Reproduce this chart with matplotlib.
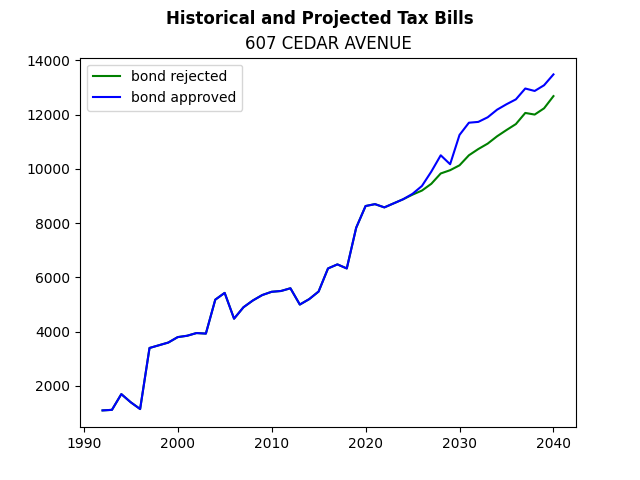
import matplotlib
matplotlib.use("Agg")
import matplotlib.pyplot as plt

# historical years (shared by both series)
hist_years = list(range(1992, 2025))
hist_tax = [1100, 1120, 1700, 1400, 1150, 3400, 3500, 3600, 3800, 3850,
            3950, 3930, 5180, 5430, 4480, 4900, 5150, 5350, 5470, 5500,
            5600, 5000, 5200, 5480, 6330, 6480, 6330, 7830, 8630, 8700,
            8580, 8730, 8880]

# projections
proj_years = list(range(2025, 2041))
rejected_proj = [9050, 9200, 9450, 9830, 9950, 10130, 10500, 10730, 10930,
                 11200, 11430, 11650, 12060, 12000, 12230, 12680]
approved_proj = [9080, 9370, 9900, 10500, 10170, 11250, 11700, 11730, 11900,
                 12180, 12380, 12560, 12960, 12870, 13080, 13480]

years = hist_years + proj_years
rejected = hist_tax + rejected_proj
approved = hist_tax + approved_proj

fig, ax = plt.subplots(figsize=(6.4, 4.8), dpi=100)
ax.plot(years, rejected, color='green', label='bond rejected')
ax.plot(years, approved, color='blue', label='bond approved')
fig.suptitle('Historical and Projected Tax Bills', fontweight='bold')
ax.set_title('607 CEDAR AVENUE')
ax.legend(loc='upper left')

fig.savefig('out.png', dpi=100)
